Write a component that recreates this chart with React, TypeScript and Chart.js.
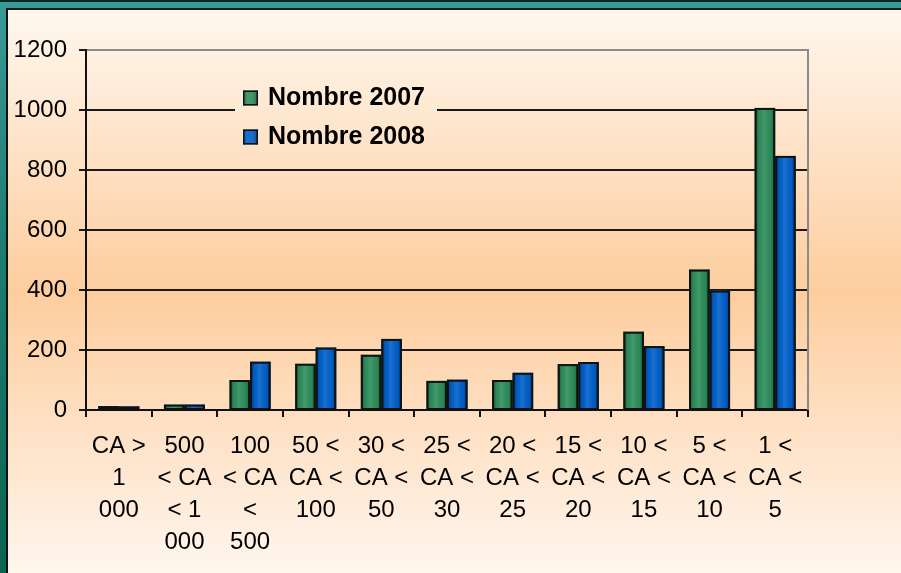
import React, { useEffect, useRef } from "react";
import { Chart, registerables } from "chart.js";

Chart.register(...registerables);

const categories: string[][] = [
  ["CA >", "1", "000"],
  ["500", "< CA", "< 1", "000"],
  ["100", "< CA", "<", "500"],
  ["50 <", "CA <", "100"],
  ["30 <", "CA <", "50"],
  ["25 <", "CA <", "30"],
  ["20 <", "CA <", "25"],
  ["15 <", "CA <", "20"],
  ["10 <", "CA <", "15"],
  ["5 <", "CA <", "10"],
  ["1 <", "CA <", "5"],
];
const series2007 = [13, 18, 100, 154, 184, 97, 100, 153, 261, 468, 1007];
const series2008 = [12, 18, 161, 208, 237, 101, 124, 160, 213, 398, 847];
const seriesNames = ["Nombre 2007", "Nombre 2008"];
const yTicks = [0, 200, 400, 600, 800, 1000, 1200];

const FONT = "'Liberation Sans', Arial, sans-serif";
const GREEN = "#2e8f5c";
const BLUE = "#0061cc";

function panelGradient(ctx: CanvasRenderingContext2D, h: number) {
  const g = ctx.createLinearGradient(0, 0, 0, h);
  g.addColorStop(0, "#fff7ee");
  g.addColorStop(0.5, "#fdcd9e");
  g.addColorStop(1, "#fff6ee");
  return g;
}

const bgPlugin = {
  id: "panelBg",
  beforeDraw(chart: any) {
    const { ctx, width, height } = chart;
    ctx.save();
    ctx.fillStyle = panelGradient(ctx, height);
    ctx.fillRect(0, 0, width, height);
    ctx.restore();
  },
};

const shadePlugin = {
  id: "barShade",
  afterDatasetsDraw(chart: any) {
    const { ctx } = chart;
    ctx.save();
    chart.data.datasets.forEach((_ds: any, di: number) => {
      const meta = chart.getDatasetMeta(di);
      meta.data.forEach((bar: any) => {
        const { x, y, base, width } = bar.getProps(["x", "y", "base", "width"], true);
        const l = x - width / 2;
        const g = ctx.createLinearGradient(l, 0, l + width, 0);
        g.addColorStop(0, "rgba(0,0,0,0.45)");
        g.addColorStop(0.2, "rgba(0,0,0,0.05)");
        g.addColorStop(0.45, "rgba(255,255,255,0.10)");
        g.addColorStop(0.8, "rgba(0,0,0,0.05)");
        g.addColorStop(1, "rgba(0,0,0,0.45)");
        ctx.fillStyle = g;
        ctx.fillRect(l, y, width, base - y);
        ctx.strokeStyle = "#111";
        ctx.lineWidth = 2;
        ctx.strokeRect(l + 1, y + 1, width - 2, base - y - 1);
      });
    });
    ctx.restore();
  },
};

const framePlugin = {
  id: "plotFrame",
  afterDraw(chart: any) {
    const { ctx, chartArea, height } = chart;
    ctx.save();
    ctx.strokeStyle = "#8a8a8a";
    ctx.lineWidth = 2;
    ctx.beginPath();
    ctx.moveTo(chartArea.right, chartArea.top - 1);
    ctx.lineTo(chartArea.right, chartArea.bottom);
    ctx.stroke();

    // legend box inside chart area
    const bx = chartArea.left + 149;
    const by = chartArea.top + 28;
    const bw = 202;
    const bh = 84;
    ctx.fillStyle = panelGradient(ctx, height);
    ctx.fillRect(bx, by, bw, bh);
    chart.data.datasets.forEach((ds: any, i: number) => {
      const cy = by + 20 + i * 39;
      const sx = bx + 8;
      ctx.fillStyle = ds.backgroundColor;
      ctx.fillRect(sx, cy - 7.5, 15, 15);
      const g = ctx.createLinearGradient(sx, 0, sx + 15, 0);
      g.addColorStop(0, "rgba(0,0,0,0.35)");
      g.addColorStop(0.4, "rgba(255,255,255,0.08)");
      g.addColorStop(1, "rgba(0,0,0,0.35)");
      ctx.fillStyle = g;
      ctx.fillRect(sx, cy - 7.5, 15, 15);
      ctx.strokeStyle = "#111";
      ctx.lineWidth = 1.5;
      ctx.strokeRect(sx + 0.75, cy - 6.75, 13.5, 13.5);
      ctx.fillStyle = "#000";
      ctx.font = `bold 25px ${FONT}`;
      ctx.textBaseline = "middle";
      ctx.textAlign = "left";
      ctx.fillText(ds.label, bx + 33, cy);
    });
    ctx.restore();
  },
};

export default function App() {
  const ref = useRef<HTMLCanvasElement | null>(null);

  useEffect(() => {
    if (!ref.current) return;
    const chart = new Chart(ref.current, {
      type: "bar",
      data: {
        labels: categories,
        datasets: [
          {
            label: seriesNames[0],
            data: series2007,
            backgroundColor: GREEN,
            borderColor: "#111",
            borderWidth: 0,
          },
          {
            label: seriesNames[1],
            data: series2008,
            backgroundColor: BLUE,
            borderColor: "#111",
            borderWidth: 0,
          },
        ],
      },
      options: {
        responsive: false,
        animation: false,
        devicePixelRatio: 1,
        layout: { padding: { top: 40, right: 93, bottom: 0, left: 0 } },
        datasets: {
          bar: { categoryPercentage: 0.625, barPercentage: 1 },
        },
        plugins: {
          legend: { display: false },
          tooltip: { enabled: false },
        },
        scales: {
          x: {
            afterFit(scale: any) {
              scale.height = 163;
            },
            grid: {
              offset: true,
              drawOnChartArea: false,
              drawTicks: true,
              tickLength: 7,
              color: "#111",
              lineWidth: 2,
            },
            border: { color: "#111", width: 2 },
            ticks: {
              color: "#000",
              padding: 14,
              maxRotation: 0,
              autoSkip: false,
              font: { family: FONT, size: 24, lineHeight: 1.32 },
            },
          },
          y: {
            min: 0,
            max: 1200,
            afterFit(scale: any) {
              scale.width = 78;
            },
            afterBuildTicks(scale: any) {
              scale.ticks = yTicks.map((v) => ({ value: v }));
            },
            grid: {
              drawTicks: true,
              tickLength: 7,
              color: (c: any) => (c.tick && c.tick.value === 1200 ? "#8a8a8a" : "#1a1a1a"),
              tickColor: "#1a1a1a",
              lineWidth: 2,
            },
            border: { color: "#111", width: 2 },
            ticks: {
              color: "#000",
              padding: 12,
              font: { family: FONT, size: 24 },
              callback: (v: any) => String(v),
            },
          },
        },
      },
      plugins: [bgPlugin, shadePlugin, framePlugin],
    });
    return () => chart.destroy();
  }, []);

  return (
    <div
      style={{
        position: "fixed",
        left: 0,
        top: 0,
        width: 901,
        height: 573,
        overflow: "hidden",
        background: "linear-gradient(to bottom, #3a9a96 0%, #1f7f74 40%, #0b6450 100%)",
      }}
    >
      <div style={{ position: "absolute", left: 0, top: 0, width: 901, height: 2, background: "#0a2624" }} />
      <div
        style={{
          position: "absolute",
          left: 6,
          top: 8,
          width: 895,
          height: 565,
          borderLeft: "2px solid #111",
          borderTop: "2px solid #1a1a1a",
          boxSizing: "border-box",
        }}
      >
        <canvas ref={ref} width={893} height={563} style={{ display: "block", width: 893, height: 563 }} />
      </div>
    </div>
  );
}
